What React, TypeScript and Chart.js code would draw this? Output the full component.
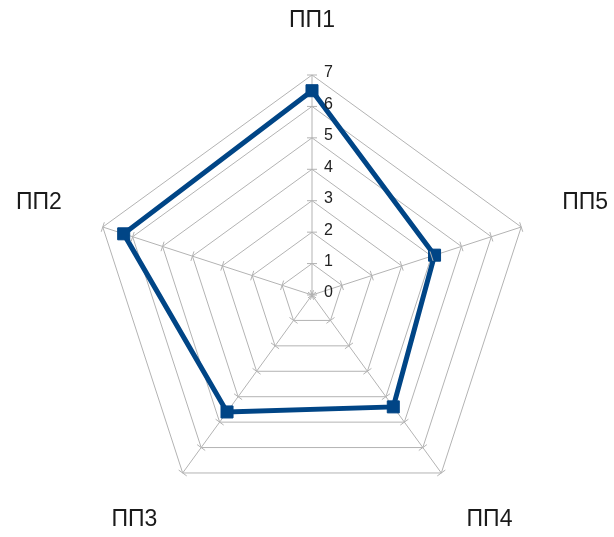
import React, { useEffect, useRef } from "react";
import { Chart, registerables } from "chart.js";

Chart.register(...registerables);

const categories = ["ПП1", "ПП2", "ПП3", "ПП4", "ПП5"];
const seriesValues = [6.5, 6.3, 4.6, 4.4, 4.1];
const tickValues = [0, 1, 2, 3, 4, 5, 6, 7];

// reference draws axes counter-clockwise: first category on top, then going left
const order = [0, ...categories.map((_, i) => i).slice(1).reverse()];
const plotLabels = order.map((i) => categories[i]);
const plotValues = order.map((i) => seriesValues[i]);

const GRID = "#b3b3b3";
const LINE = "#004586";

const decorPlugin = {
  id: "decor",
  afterDraw(chart: any) {
    const scale = chart.scales.r;
    const ctx = chart.ctx;
    ctx.save();
    ctx.strokeStyle = GRID;
    ctx.lineWidth = 1;
    for (let i = 0; i < plotLabels.length; i++) {
      const a = scale.getIndexAngle(i) - Math.PI / 2;
      const px = -Math.sin(a);
      const py = Math.cos(a);
      for (const v of tickValues) {
        const p = scale.getPointPositionForValue(i, v);
        ctx.beginPath();
        ctx.moveTo(p.x - px * 5, p.y - py * 5);
        ctx.lineTo(p.x + px * 5, p.y + py * 5);
        ctx.stroke();
      }
    }
    ctx.restore();
  },
  afterDatasetsDraw(chart: any) {
    const scale = chart.scales.r;
    const ctx = chart.ctx;
    ctx.save();
    ctx.font = "16px 'Liberation Sans', Arial, sans-serif";
    ctx.fillStyle = "#222222";
    ctx.textAlign = "left";
    ctx.textBaseline = "middle";
    for (const v of tickValues) {
      const p = scale.getPointPositionForValue(0, v);
      ctx.fillText(String(v), p.x + 12, p.y - 2);
    }
    ctx.font = "23px 'Liberation Sans', Arial, sans-serif";
    ctx.fillStyle = "#1a1a1a";
    for (let i = 0; i < plotLabels.length; i++) {
      const pos = scale.getPointPosition(i, scale.drawingArea + 43);
      const deg = Math.round((scale.getIndexAngle(i) * 180) / Math.PI) % 360;
      if (deg === 0 || deg === 180) ctx.textAlign = "center";
      else if (deg < 180) ctx.textAlign = "left";
      else ctx.textAlign = "right";
      if (deg === 90 || deg === 270) ctx.textBaseline = "middle";
      else if (deg < 90 || deg > 270) ctx.textBaseline = "bottom";
      else ctx.textBaseline = "top";
      ctx.fillText(plotLabels[i], pos.x, pos.y);
    }
    ctx.restore();
  },
};

export default function App() {
  const ref = useRef<HTMLCanvasElement>(null);
  useEffect(() => {
    if (!ref.current) return;
    const chart = new Chart(ref.current, {
      type: "radar",
      data: {
        labels: plotLabels,
        datasets: [
          {
            data: plotValues,
            borderColor: LINE,
            backgroundColor: LINE,
            borderWidth: 5,
            pointStyle: "rect",
            pointRadius: 8.5,
            pointBorderWidth: 1,
            fill: false,
          },
        ],
      },
      options: {
        animation: false,
        responsive: false,
        layout: { padding: { left: 92, right: 82, top: 75, bottom: 22 } },
        plugins: { legend: { display: false }, tooltip: { enabled: false } },
        scales: {
          r: {
            min: 0,
            max: 7,
            ticks: { display: false, stepSize: 1 },
            pointLabels: { display: false },
            grid: { color: GRID, lineWidth: 1 },
            angleLines: { color: GRID, lineWidth: 1 },
          },
        },
      },
      plugins: [decorPlugin],
    });
    return () => chart.destroy();
  }, []);
  return (
    <div style={{ position: "absolute", left: 0, top: 0, width: 614, height: 537, background: "#fff" }}>
      <canvas ref={ref} width={614} height={537} style={{ width: 614, height: 537 }} />
    </div>
  );
}
